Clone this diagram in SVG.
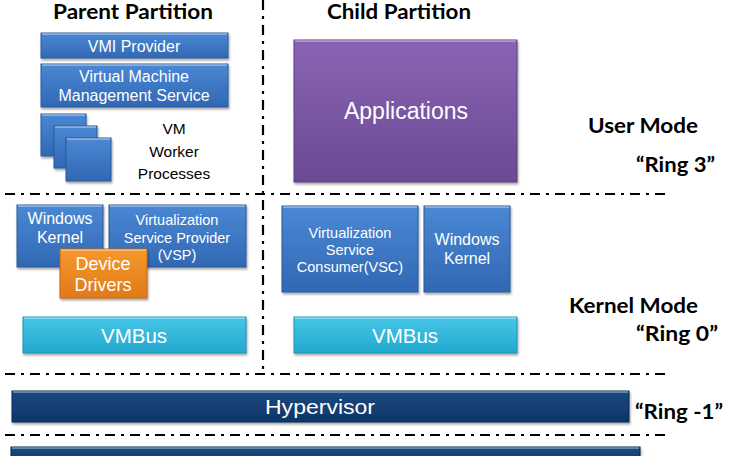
<svg xmlns="http://www.w3.org/2000/svg" width="740" height="456" viewBox="0 0 740 456">
<style>
.sep{stroke:#000;stroke-width:2.2;stroke-dasharray:10 6 3 6;fill:none}
.w{fill:#fff;font-family:"Liberation Sans",Arial,sans-serif;text-anchor:middle}
.k{fill:#000;font-family:"Liberation Sans",Arial,sans-serif;text-anchor:middle}
.h{fill:#000;font-family:Lato,"Open Sans","Liberation Sans",sans-serif;font-weight:bold}
.blue{fill:url(#gBlue);stroke:#2a5a98;stroke-width:1;filter:url(#sh)}
.purple{fill:url(#gPurple);stroke:#5a3e80;stroke-width:1;filter:url(#sh)}
.orange{fill:url(#gOrange);stroke:#c0651a;stroke-width:1;filter:url(#sh)}
.cyan{fill:url(#gCyan);stroke:#1c93b6;stroke-width:1;filter:url(#sh)}
.navy{fill:url(#gNavy);stroke:#0a2a55;stroke-width:1;filter:url(#sh)}
.hl{stroke:#fff;stroke-opacity:0.45;stroke-width:1.5;fill:none}
</style>
<defs>
<linearGradient id="gBlue" x1="0" y1="0" x2="0" y2="1"><stop offset="0" stop-color="#4a88d4"/><stop offset="1" stop-color="#3168b4"/></linearGradient>
<linearGradient id="gPurple" x1="0" y1="0" x2="0" y2="1"><stop offset="0" stop-color="#8a64b4"/><stop offset="1" stop-color="#6a4a92"/></linearGradient>
<linearGradient id="gOrange" x1="0" y1="0" x2="0" y2="1"><stop offset="0" stop-color="#f6982e"/><stop offset="1" stop-color="#e07a18"/></linearGradient>
<linearGradient id="gCyan" x1="0" y1="0" x2="0" y2="1"><stop offset="0" stop-color="#46c6e6"/><stop offset="1" stop-color="#22a8cf"/></linearGradient>
<linearGradient id="gNavy" x1="0" y1="0" x2="0" y2="1"><stop offset="0" stop-color="#1a4a82"/><stop offset="1" stop-color="#0e3566"/></linearGradient>
<filter id="sh" x="-10%" y="-10%" width="120%" height="130%"><feDropShadow dx="1" dy="2" stdDeviation="1.2" flood-color="#000" flood-opacity="0.35"/></filter>
</defs>

<g id="separators">
<line class="sep" x1="263" y1="0" x2="263" y2="374"/>
<line class="sep" x1="5" y1="194" x2="670" y2="194"/>
<line class="sep" x1="5" y1="374" x2="670" y2="374"/>
<line class="sep" x1="5" y1="435" x2="670" y2="435"/>
</g>

<g id="titles">
<text class="h" x="133" y="19" font-size="20" text-anchor="middle" textLength="160" lengthAdjust="spacingAndGlyphs">Parent Partition</text>
<text class="h" x="399" y="19" font-size="20" text-anchor="middle" textLength="144" lengthAdjust="spacingAndGlyphs">Child Partition</text>
<text class="h" x="588" y="133" font-size="21" textLength="110" lengthAdjust="spacingAndGlyphs">User Mode</text>
<text class="h" x="636" y="172" font-size="21" textLength="79" lengthAdjust="spacingAndGlyphs">“Ring 3”</text>
<text class="h" x="569" y="313" font-size="21" textLength="129" lengthAdjust="spacingAndGlyphs">Kernel Mode</text>
<text class="h" x="636" y="341" font-size="21" textLength="82" lengthAdjust="spacingAndGlyphs">“Ring 0”</text>
<text class="h" x="635" y="419" font-size="21" textLength="88" lengthAdjust="spacingAndGlyphs">“Ring -1”</text>
</g>

<g id="vmi-provider">
<rect class="blue" x="41" y="33" width="187" height="25"/>
<line class="hl" x1="42" y1="34" x2="227" y2="34"/>
<text class="w" x="134" y="52" font-size="16">VMI Provider</text>
</g>

<g id="vmms">
<rect class="blue" x="41" y="64" width="187" height="43"/>
<line class="hl" x1="42" y1="65" x2="227" y2="65"/>
<text class="w" x="134" y="82" font-size="16">Virtual Machine</text>
<text class="w" x="134" y="101" font-size="16">Management Service</text>
</g>

<g id="vm-worker-processes">
<rect class="blue" x="41" y="114" width="45" height="42"/>
<line class="hl" x1="42" y1="115" x2="85" y2="115"/>
<rect class="blue" x="54" y="126" width="43" height="42"/>
<line class="hl" x1="55" y1="127" x2="96" y2="127"/>
<rect class="blue" x="66" y="138" width="45" height="43"/>
<line class="hl" x1="67" y1="139" x2="110" y2="139"/>
<text class="k" x="174" y="134" font-size="15.5">VM</text>
<text class="k" x="174" y="157" font-size="15.5">Worker</text>
<text class="k" x="174" y="179" font-size="15.5">Processes</text>
</g>

<g id="applications">
<rect class="purple" x="294" y="40" width="223" height="142"/>
<line class="hl" x1="295" y1="41" x2="516" y2="41"/>
<text class="w" x="406" y="119" font-size="23">Applications</text>
</g>

<g id="parent-windows-kernel">
<rect class="blue" x="17" y="205" width="86" height="62"/>
<line class="hl" x1="18" y1="206" x2="102" y2="206"/>
<text class="w" x="60" y="224" font-size="16">Windows</text>
<text class="w" x="60" y="243" font-size="16">Kernel</text>
</g>

<g id="vsp">
<rect class="blue" x="109" y="205" width="137" height="62"/>
<line class="hl" x1="110" y1="206" x2="245" y2="206"/>
<text class="w" x="177" y="225" font-size="14.5">Virtualization</text>
<text class="w" x="177" y="243" font-size="14.5">Service Provider</text>
<text class="w" x="177" y="260" font-size="14.5">(VSP)</text>
</g>

<g id="device-drivers">
<rect class="orange" x="60" y="249" width="87" height="49"/>
<line class="hl" x1="61" y1="250" x2="146" y2="250"/>
<text class="w" x="103" y="270" font-size="18">Device</text>
<text class="w" x="103" y="291" font-size="18">Drivers</text>
</g>

<g id="parent-vmbus">
<rect class="cyan" x="23" y="317" width="223" height="36"/>
<line class="hl" x1="24" y1="318" x2="245" y2="318"/>
<text class="w" x="134" y="343" font-size="20.5">VMBus</text>
</g>

<g id="vsc">
<rect class="blue" x="282" y="206" width="136" height="86"/>
<line class="hl" x1="283" y1="207" x2="417" y2="207"/>
<text class="w" x="350" y="238" font-size="14.5">Virtualization</text>
<text class="w" x="350" y="255" font-size="14.5">Service</text>
<text class="w" x="350" y="272" font-size="14.5">Consumer(VSC)</text>
</g>

<g id="child-windows-kernel">
<rect class="blue" x="424" y="206" width="86" height="86"/>
<line class="hl" x1="425" y1="207" x2="509" y2="207"/>
<text class="w" x="467" y="245" font-size="16">Windows</text>
<text class="w" x="467" y="264" font-size="16">Kernel</text>
</g>

<g id="child-vmbus">
<rect class="cyan" x="294" y="317" width="223" height="36"/>
<line class="hl" x1="295" y1="318" x2="516" y2="318"/>
<text class="w" x="405" y="343" font-size="20.5">VMBus</text>
</g>

<g id="hypervisor">
<rect class="navy" x="12" y="391" width="617" height="31"/>
<line class="hl" x1="13" y1="392" x2="628" y2="392"/>
<text class="w" x="320" y="414" font-size="21" textLength="110" lengthAdjust="spacingAndGlyphs">Hypervisor</text>
</g>

<g id="hardware">
<rect class="navy" x="11" y="447" width="629" height="20"/>
<line class="hl" x1="12" y1="448" x2="639" y2="448"/>
</g>
</svg>
